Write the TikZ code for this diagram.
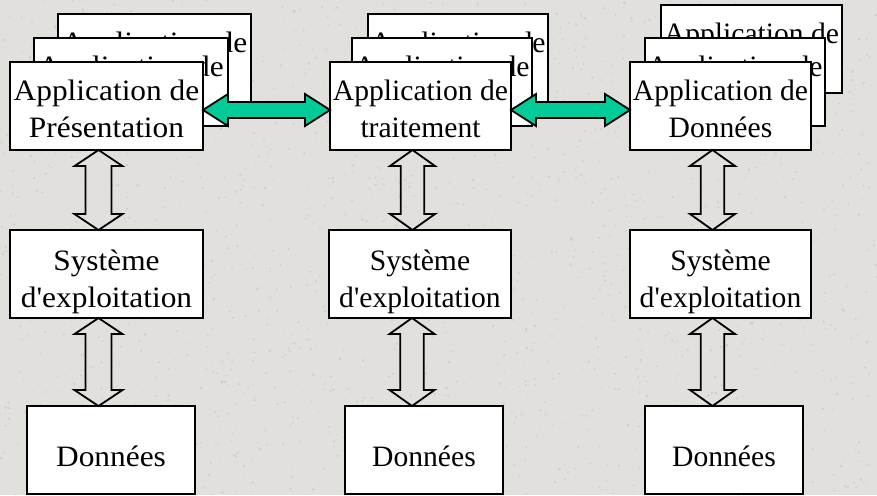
\documentclass[tikz,border=0pt]{standalone}
\usepackage{fontspec}
\setmainfont{Liberation Serif}[Ligatures=TeXOff]
\newfontfamily\plainfont{Liberation Serif}
\newfontfamily\widefont[FakeStretch=1.06]{Liberation Serif}
\usetikzlibrary{calc}

\definecolor{paper}{RGB}{226,224,221}
\definecolor{grain}{RGB}{198,196,192}
\definecolor{linkgreen}{RGB}{0,204,153}

\tikzset{
  box/.style={draw=black, line width=1.8pt, fill=white, inner sep=0pt,
    outer sep=0pt, anchor=north west, minimum height=88pt},
  lbl/.style={font=\plainfont\fontsize{29.6}{37.8}\selectfont, align=center,
    inner sep=0pt, anchor=north},
  lblw/.style={lbl, font=\widefont\fontsize{29.6}{37.8}\selectfont},
  hollow/.style={draw=black, line width=1.8pt, line join=miter},
  linkarrow/.style={draw=black, line width=1.8pt, fill=linkgreen, line join=miter},
}

% vertical two-headed outline arrow from the bottom of #1 to the top of #2;
% #3 = half width of the heads, #4 = half width of the shaft
\newcommand\hollowlink[4]{%
  \draw[hollow] let \p1=([xshift=-8pt]#1.south), \p2=(#2.north) in
    (\x1,\y1) -- (\x1+#3pt,\y1-16pt) -- (\x1+#4pt,\y1-16pt)
    -- (\x1+#4pt,\y2+16pt) -- (\x1+#3pt,\y2+16pt) -- (\x1,\y2)
    -- (\x1-#3pt,\y2+16pt) -- (\x1-#4pt,\y2+16pt)
    -- (\x1-#4pt,\y1-16pt) -- (\x1-#3pt,\y1-16pt) -- cycle;}

% horizontal two-headed green arrow from the right side of #1 to the left side of #2
\newcommand\greenlink[2]{%
  \draw[linkarrow] let \p1=([yshift=-4pt]#1.east), \p2=(#2.west) in
    (\x1,\y1) -- (\x1+25pt,\y1+16pt) -- (\x1+25pt,\y1+8pt)
    -- (\x2-25pt,\y1+8pt) -- (\x2-25pt,\y1+16pt) -- (\x2,\y1)
    -- (\x2-25pt,\y1-16pt) -- (\x2-25pt,\y1-8pt)
    -- (\x1+25pt,\y1-8pt) -- (\x1+25pt,\y1-16pt) -- cycle;}

\begin{document}
\begin{tikzpicture}[x=1pt,y=-1pt]
  % granite-like backdrop
  \fill[paper] (0,0) rectangle (877,495);
  \useasboundingbox (0,0) rectangle (877,495);
  \pgfmathsetseed{42}
  \foreach \k in {1,...,2200}{
    \fill[grain, opacity=0.6] (rnd*877,rnd*495) circle[radius=0.4+rnd];
  }

  % ---- presentation side ----
  \node[box, minimum width=193pt] (pb2) at (58,14) {};
  \node[lblw] (pb2t) at ([yshift=-11.5pt]pb2.north) {\strut Application de};
  \node[box, minimum width=194pt] (pb1) at (34,38) {};
  \node[lblw] (pb1t) at ([yshift=-11.5pt]pb1.north) {\strut Application de};
  \node[box, minimum width=193pt] (pf) at (10,62) {};
  \node[lblw] (pft) at ([yshift=-11.5pt]pf.north) {\strut Application de\\\strut Présentation};

  \node[box, minimum width=193pt] (ps) at (10,230) {};
  \node[lblw] (pst) at ([yshift=-13.5pt]ps.north) {\strut Système\\\strut d'exploitation};
  \node[box, minimum width=168pt] (pd) at (27,406) {};
  \node[lblw] (pdt) at ([yshift=-33.5pt]pd.north) {\strut Données};

  % ---- processing side ----
  \node[box, minimum width=180pt] (tb2) at (368,14) {};
  \node[lbl] (tb2t) at ([yshift=-11.5pt]tb2.north) {\strut Application de};
  \node[box, minimum width=180pt] (tb1) at (352,38) {};
  \node[lbl] (tb1t) at ([yshift=-11.5pt]tb1.north) {\strut Application de};
  \node[box, minimum width=181pt] (tf) at (330,62) {};
  \node[lbl] (tft) at ([yshift=-11.5pt]tf.north) {\strut Application de\\\strut traitement};

  \node[box, minimum width=182pt] (ts) at (329,230) {};
  \node[lbl] (tst) at ([yshift=-13.5pt]ts.north) {\strut Système\\\strut d'exploitation};
  \node[box, minimum width=158pt] (td) at (345,406) {};
  \node[lbl] (tdt) at ([yshift=-33.5pt]td.north) {\strut Données};

  % ---- data side ----
  \node[box, minimum width=181pt] (db2) at (661,5) {};
  \node[lbl] (db2t) at ([yshift=-11.5pt]db2.north) {\strut Application de};
  \node[box, minimum width=180pt] (db1) at (645,38) {};
  \node[lbl] (db1t) at ([yshift=-11.5pt]db1.north) {\strut Application de};
  \node[box, minimum width=181pt] (df) at (630,62) {};
  \node[lbl] (dft) at ([yshift=-11.5pt]df.north) {\strut Application de\\\strut Données};

  \node[box, minimum width=181pt] (ds) at (630,230) {};
  \node[lbl] (dst) at ([yshift=-13.5pt]ds.north) {\strut Système\\\strut d'exploitation};
  \node[box, minimum width=158pt] (dd) at (645,406) {};
  \node[lbl] (ddt) at ([yshift=-33.5pt]dd.north) {\strut Données};

  % ---- links between the tiers ----
  \greenlink{pf}{tf}
  \greenlink{tf}{df}

  % ---- vertical links inside each machine ----
  \hollowlink{pf}{ps}{24}{13}
  \hollowlink{ps}{pd}{24}{13}
  \hollowlink{tf}{ts}{22.5}{11.8}
  \hollowlink{ts}{td}{22.5}{11.8}
  \hollowlink{df}{ds}{22.5}{11.8}
  \hollowlink{ds}{dd}{22.5}{11.8}
\end{tikzpicture}
\end{document}
